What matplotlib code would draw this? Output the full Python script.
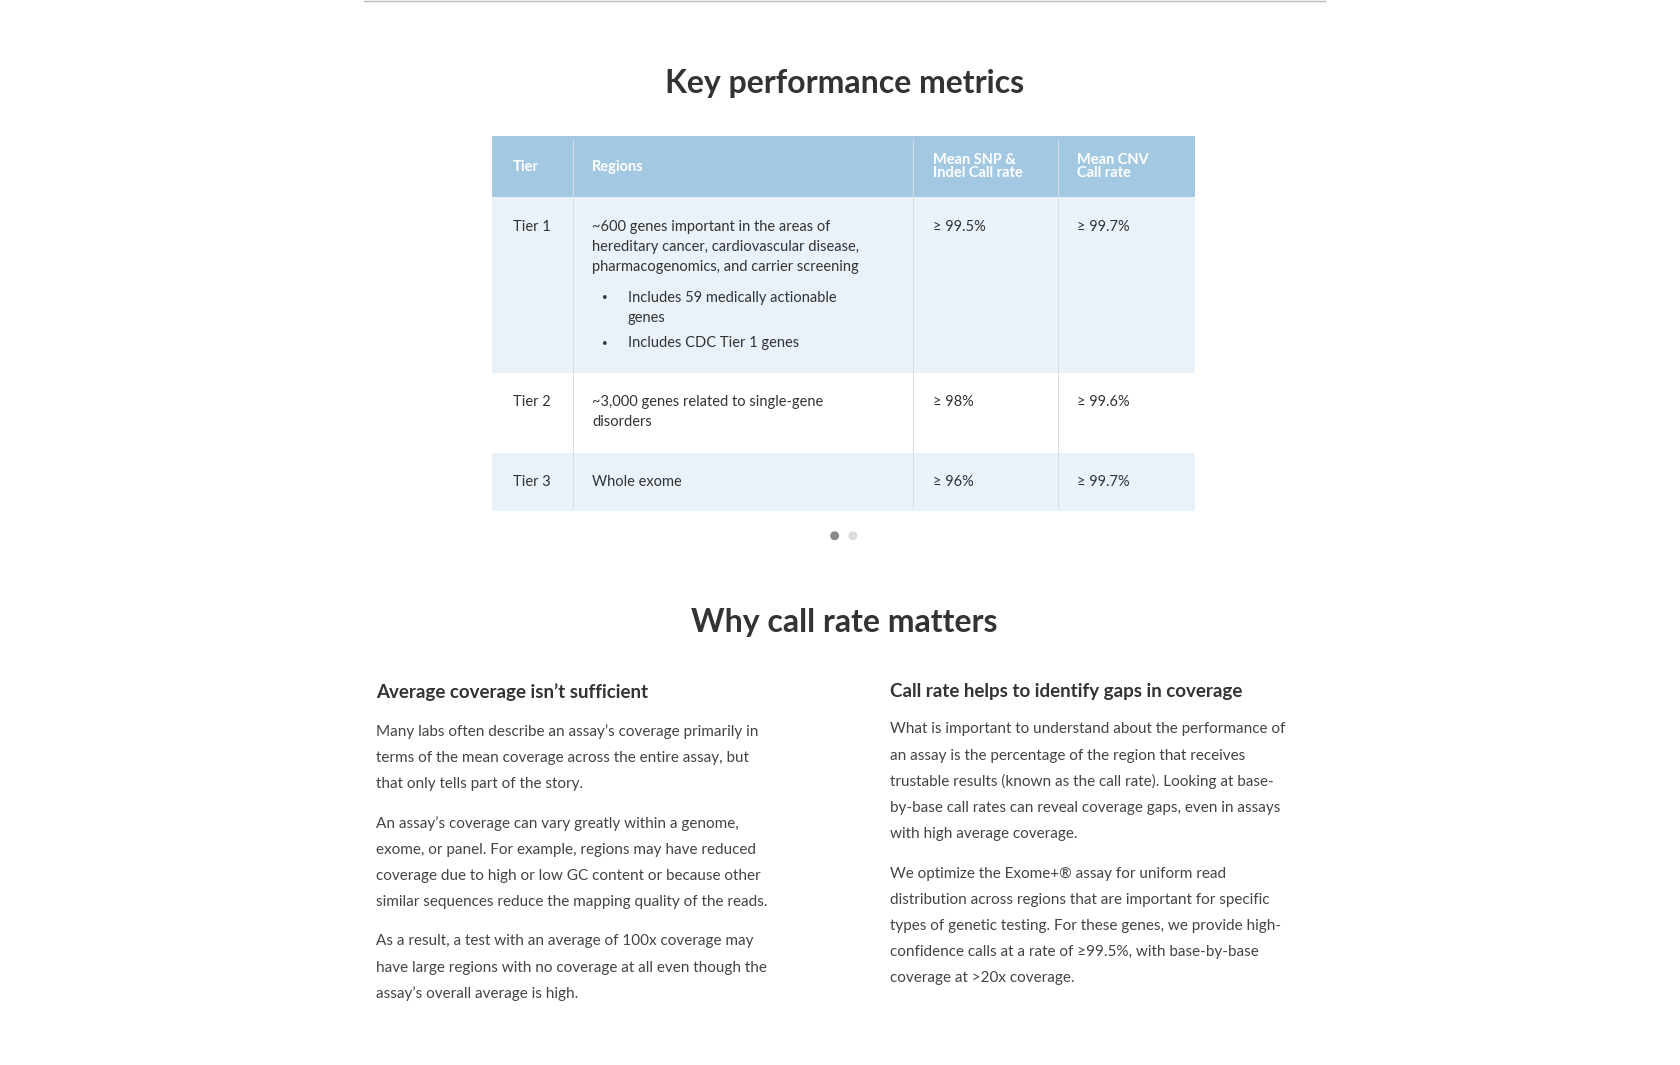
import matplotlib
matplotlib.use('Agg')
import matplotlib.pyplot as plt
from matplotlib.patches import Rectangle, Circle

plt.rcParams['font.family'] = ['Lato', 'DejaVu Sans']

S = 1680 / 1560  # reference layout was measured at 1560 wide

title1 = 'Key performance metrics'
title2 = 'Why call rate matters'
headers = ['Tier', 'Regions', 'Mean SNP &\nIndel Call rate', 'Mean CNV\nCall rate']
tiers = ['Tier 1', 'Tier 2', 'Tier 3']
regions = [
    ['~600 genes important in the areas of', 'hereditary cancer, cardiovascular disease,',
     'pharmacogenomics, and carrier screening'],
    ['~3,000 genes related to single-gene', 'disorders'],
    ['Whole exome'],
]
bullets = [['Includes 59 medically actionable', 'genes'], ['Includes CDC Tier 1 genes']]
snp_rate = ['\u2265 99.5%', '\u2265 98%', '\u2265 96%']
cnv_rate = ['\u2265 99.7%', '\u2265 99.6%', '\u2265 99.7%']

left_head = 'Average coverage isn\u2019t sufficient'
left_paras = [
    ['Many labs often describe an assay\u2019s coverage primarily in',
     'terms of the mean coverage across the entire assay, but',
     'that only tells part of the story.'],
    ['An assay\u2019s coverage can vary greatly within a genome,',
     'exome, or panel. For example, regions may have reduced',
     'coverage due to high or low GC content or because other',
     'similar sequences reduce the mapping quality of the reads.'],
    ['As a result, a test with an average of 100x coverage may',
     'have large regions with no coverage at all even though the',
     'assay\u2019s overall average is high.'],
]
right_head = 'Call rate helps to identify gaps in coverage'
right_paras = [
    ['What is important to understand about the performance of',
     'an assay is the percentage of the region that receives',
     'trustable results (known as the call rate). Looking at base-',
     'by-base call rates can reveal coverage gaps, even in assays',
     'with high average coverage.'],
    ['We optimize the Exome+\u00ae assay for uniform read',
     'distribution across regions that are important for specific',
     'types of genetic testing. For these genes, we provide high-',
     'confidence calls at a rate of \u226599.5%, with base-by-base',
     'coverage at >20x coverage.'],
]

dark = '#333333'
fig = plt.figure(figsize=(16.8, 10.65), dpi=100)
ax = fig.add_axes([0, 0, 1, 1])
ax.set_xlim(0, 1560)
ax.set_ylim(990, 0)
ax.axis('off')

ax.plot([338, 1230], [0.5, 0.5], color='#bbbbbb', lw=1)
ax.text(784, 78, title1, ha='center', va='center', fontsize=23, fontweight='bold', color=dark)

# table
xs = [457, 532, 848, 982, 1110]
rows = [126, 183, 347, 421, 475]
ax.add_patch(Rectangle((457, 126), 653, 57, color='#a3c8e2', lw=0))
ax.add_patch(Rectangle((457, 183), 653, 164, color='#eaf2f9', lw=0))
ax.add_patch(Rectangle((457, 421), 653, 54, color='#eaf2f9', lw=0))
for x in xs[1:-1]:
    ax.plot([x, x], [130, 472], color='#d8dee4', lw=0.8)
tx = [476, 550, 866, 1000]
for x, h in zip(tx, headers):
    ax.text(x, 155, h, ha='left', va='center', fontsize=10.5, fontweight='bold',
            color='white', linespacing=0.95)

fs = 10.5
row_top = [211, 374, 448]
for i in range(3):
    y = row_top[i]
    ax.text(476, y, tiers[i], va='center', fontsize=fs, color=dark)
    ax.text(866, y, snp_rate[i], va='center', fontsize=fs, color=dark)
    ax.text(1000, y, cnv_rate[i], va='center', fontsize=fs, color=dark)
    for j, line in enumerate(regions[i]):
        ax.text(550, y + j * 18.7, line, va='center', fontsize=fs, color=dark)
by = [[277, 296], [319]]
for b, ys in zip(bullets, by):
    ax.text(562, ys[0], '\u2022', va='center', ha='center', fontsize=7, color=dark)
    for line, y in zip(b, ys):
        ax.text(583, y, line, va='center', fontsize=fs, color=dark)

ax.add_patch(Circle((775, 498), 3.5, color='#888888'))
ax.add_patch(Circle((792, 498), 3.5, color='#dddddd'))

ax.text(784, 579, title2, ha='center', va='center', fontsize=23, fontweight='bold', color=dark)
ax.text(349, 643, left_head, va='center', fontsize=13.5, fontweight='bold', color=dark)
ax.text(826, 643, right_head, va='center', fontsize=13.5, fontweight='bold', color=dark)

def paras(x, y0, ps):
    y = y0
    for p in ps:
        for line in p:
            ax.text(x, y, line, va='center', fontsize=11, color='#444444')
            y += 24.3
        y += 12.5

paras(349, 680, left_paras)
paras(826, 678, right_paras)

fig.savefig('out.png', dpi=100)
